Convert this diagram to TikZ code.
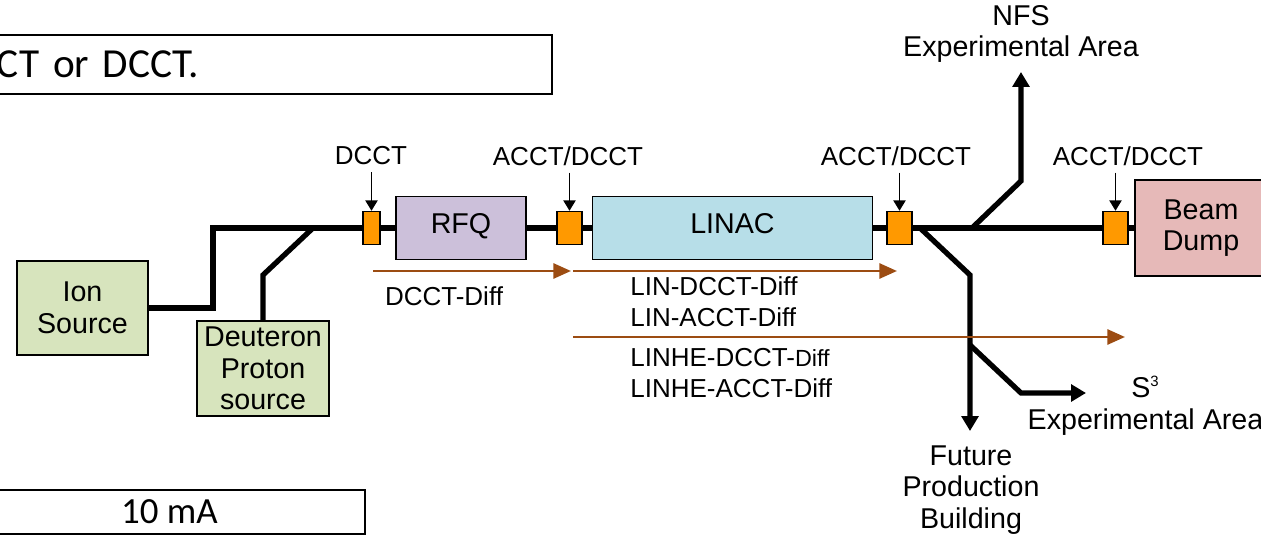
\documentclass[tikz,border=0pt]{standalone}
\usepackage{fontspec}
\setmainfont{Liberation Sans}
\newfontfamily\carlito{Carlito}
\usetikzlibrary{arrows.meta}
\definecolor{SrcGreen}{HTML}{D7E4BD}
\definecolor{RfqLilac}{HTML}{CCC0DA}
\definecolor{LinacBlue}{HTML}{B7DEE8}
\definecolor{DumpPink}{HTML}{E6B9B8}
\definecolor{CTOrange}{HTML}{FF9900}
\definecolor{DiffBrown}{HTML}{9C4C12}
\newcommand{\unitfont}{\fontsize{16.3}{18}\selectfont}
\newcommand{\tagfont}{\fontsize{14.8}{17.6}\selectfont}
\newcommand{\difffont}{\fontsize{13.3}{15}\selectfont}

\begin{document}
\begin{tikzpicture}[
  unit/.style={draw=black,line width=1.1pt,align=center,font=\unitfont,inner sep=0pt},
  onerow/.style={unit,minimum height=1.26cm,text height=0.41cm,text depth=0.2cm},
  srcbox/.style={unit,fill=SrcGreen,minimum width=2.63cm,minimum height=1.89cm},
  ctbox/.style={draw=black,line width=0.8pt,fill=CTOrange,minimum width=0.5cm,
    minimum height=0.66cm,inner sep=0pt},
  ctlbl/.style={font=\tagfont,inner sep=0pt,outer ysep=0.14cm},
  probe/.style={-{Triangle[length=6pt,width=7pt]},line width=1pt},
  beam/.style={line width=3pt},
  branch/.style={beam,-{Triangle[length=8.5pt,width=9.5pt]}},
  diff/.style={draw=DiffBrown,line width=1.6pt,-{Triangle[length=10pt,width=8.5pt]}},
  dlbl/.style={font=\tagfont,align=left,inner sep=0pt},
  dest/.style={font=\unitfont,align=center,inner sep=0pt},
  slide/.style={draw=black,line width=1.2pt,inner sep=0pt,font={\carlito\fontsize{23.5}{26}\selectfont}}
]
  \path[use as bounding box] (0,0) rectangle (25.22,10.76);
  \clip (0,0) rectangle (25.22,10.76);

  % slide text boxes
  \node[slide,anchor=north east,minimum width=11.56cm,minimum height=1.18cm,
    text width=10.64cm,inner xsep=0.46cm,align=left] (remark) at (11.06,10.08) {CT or DCCT.};
  \node[slide,anchor=south east,minimum width=7.82cm,minimum height=0.88cm,
    font={\carlito\fontsize{21}{24}\selectfont}] (current) at (7.32,0.06) {10 mA};

  % sources
  \node[srcbox] (ion)  at (1.65,4.60) {Ion\\Source};
  \node[srcbox] (deut) at (5.26,3.39) {Deuteron\\Proton\\source};

  % accelerator line
  \node[ctbox,minimum width=0.34cm] (s1) at (7.43,6.20) {};
  \node[onerow,fill=RfqLilac,minimum width=2.6cm] (rfq) at (9.22,6.20) {RFQ};
  \node[ctbox] (s2) at (11.39,6.20) {};
  \node[onerow,fill=LinacBlue,minimum width=5.6cm] (linac) at (14.65,6.20) {LINAC};
  \node[ctbox] (s3) at (17.99,6.20) {};
  \node[ctbox] (s4) at (22.31,6.20) {};
  \node[unit,fill=DumpPink,minimum width=2.64cm,minimum height=1.92cm] (dump) at (24.02,6.20) {Beam\\Dump};

  % current transformer labels
  \node[ctlbl] (l1) at (7.42,7.64)  {DCCT};
  \node[ctlbl] (l2) at (11.36,7.64) {ACCT/DCCT};
  \node[ctlbl] (l3) at (17.92,7.64) {ACCT/DCCT};
  \node[ctlbl] (l4) at (22.56,7.64) {ACCT/DCCT};
  \draw[probe] (l1.south -| s1) -- (s1.north);
  \draw[probe] (l2.south -| s2) -- (s2.north);
  \draw[probe] (l3.south -| s3) -- (s3.north);
  \draw[probe] (l4.south -| s4) -- (s4.north);

  % beam pipe
  \coordinate (bend)  at (4.26,6.20);
  \coordinate (dkink) at (5.26,5.26);
  \coordinate (djoin) at (6.26,6.20);
  \draw[beam] (ion.east) -| (bend) -- (s1.west);
  \draw[beam] (deut.north) -- (dkink) -- (djoin);
  \draw[beam] (s1.east) -- (rfq.west);
  \draw[beam] (rfq.east) -- (s2.west);
  \draw[beam] (s2.east) -- (linac.west);
  \draw[beam] (linac.east) -- (s3.west);
  \draw[beam] (s3.east) -- (s4.west);
  \draw[beam] (s4.east) -- (dump.west);

  % experimental areas
  \node[dest] (nfs) at (20.42,10.08) {NFS\\Experimental Area};
  \node[dest] (fut) at (19.42,0.96)  {Future\\Production\\Building};
  \node[dest] (sss) at (22.91,2.64)  {S\textsuperscript{\fontsize{8.5}{9}\selectfont 3}\\Experimental Area};
  \coordinate (nfsfork) at (19.44,6.20);
  \coordinate (nfskink) at (20.42,7.14);
  \coordinate (nfstip)  at (20.42,9.32);
  \coordinate (futfork) at (18.40,6.20);
  \coordinate (futkink) at (19.40,5.26);
  \coordinate (futtip)  at (19.40,2.14);
  \coordinate (sssfork) at (19.40,3.86);
  \coordinate (ssskink) at (20.42,2.90);
  \coordinate (ssstip)  at (21.72,2.90);
  \draw[branch] (nfsfork) -- (nfskink) -- (nfstip);
  \draw[branch] (futfork) -- (futkink) -- (futtip);
  \draw[branch] (sssfork) -- (ssskink) -- (ssstip);

  % difference measurements
  \coordinate (d1a) at (7.46,5.34);
  \coordinate (d1b) at (11.42,5.34);
  \coordinate (d2a) at (11.46,5.34);
  \coordinate (d2b) at (17.94,5.34);
  \coordinate (d3a) at (11.46,4.02);
  \coordinate (d3b) at (22.50,4.02);
  \draw[diff] (d1a) -- (d1b);
  \draw[diff] (d2a) -- (d2b);
  \draw[diff] (d3a) -- (d3b);
  \node[dlbl] (dd1) at (8.88,4.83) {DCCT-Diff};
  \node[dlbl,anchor=west] (dd2) at (12.60,4.72) {LIN-DCCT-Diff\\LIN-ACCT-Diff};
  \node[dlbl,anchor=west] (dd3) at (12.60,3.30) {LINHE-DCCT-{\difffont Diff}\\LINHE-ACCT-Diff};
\end{tikzpicture}
\end{document}
